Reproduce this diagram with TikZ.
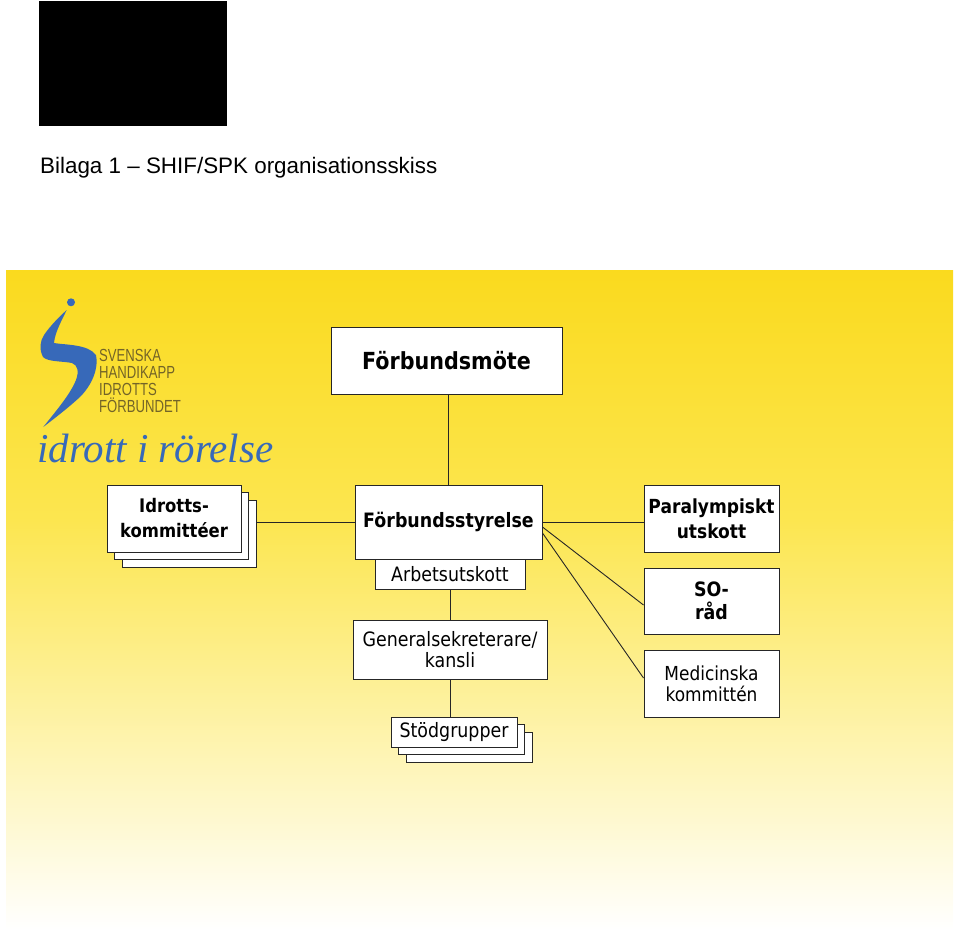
\documentclass[tikz,border=0pt]{standalone}
\usepackage{fontspec}
\setmainfont{DejaVu Sans}[FakeStretch=0.88]
\newfontfamily\titlefont{Liberation Sans}
\newfontfamily\handfont{Liberation Serif}
\definecolor{yA}{RGB}{250,218,30}
\definecolor{yB}{RGB}{252,230,80}
\definecolor{yC}{RGB}{254,244,170}
\definecolor{logoblue}{RGB}{55,105,185}
\definecolor{logotext}{RGB}{115,100,40}
\begin{document}
\begin{tikzpicture}[x=1pt,y=-1pt,
  box/.style={draw=black!85, line width=1pt, fill=white, inner sep=0pt, align=center},
  conn/.style={draw=black!85, line width=0.9pt},
  reg/.style={font=\fontsize{19.8}{21}\selectfont},
  bld/.style={font=\fontsize{19.8}{24}\selectfont\bfseries},
  logotxt/.style={anchor=base west, inner sep=0pt, text=logotext, font=\titlefont\fontsize{17.5}{17}\selectfont}]
\useasboundingbox (0,0) rectangle (960,930);
% header
\fill[black] (39,1) rectangle (227,126);
\node[anchor=base west, inner sep=0pt, font=\titlefont\fontsize{22.4}{26}\selectfont] (title) at (40,173) {Bilaga 1 – SHIF/SPK organisationsskiss};
% background
\shade[top color=yA, bottom color=yB] (6,270) rectangle (953,520.5);
\shade[top color=yB, middle color=yC, bottom color=white] (6,520) rectangle (953,930);
% logo
\fill[logoblue] (71,302.3) circle (4);
\fill[logoblue] (66.7,310) .. controls (62,320) and (55,332) .. (54,343)
  .. controls (65,345) and (88,344) .. (96,355)
  .. controls (99,368) and (92,385) .. (80,397)
  .. controls (68,408) and (55,418) .. (43.3,427)
  .. controls (55,412) and (70,395) .. (76,380)
  .. controls (79,372) and (78,365) .. (72,363)
  .. controls (62,361) and (48,362) .. (43,357)
  .. controls (39,349) and (40,341) .. (44,335)
  .. controls (50,326) and (60,316) .. (66.7,310) -- cycle;
\node[logotxt] (l1) at (99,361) {\scalebox{0.75}[1]{SVENSKA}};
\node[logotxt] (l2) at (99,378) {\scalebox{0.75}[1]{HANDIKAPP}};
\node[logotxt] (l3) at (99,395) {\scalebox{0.75}[1]{IDROTTS}};
\node[logotxt] (l4) at (99,412) {\scalebox{0.75}[1]{FÖRBUNDET}};
\node[anchor=base west, inner sep=0pt, text=logoblue, font=\handfont\itshape\fontsize{41}{41}\selectfont] (slogan) at (37,462) {idrott i rörelse};
% boxes
\node[box, font=\fontsize{23.5}{24}\selectfont\bfseries, minimum width=231, minimum height=67] (fm) at (446.5,360.5) {Förbundsmöte};
\node[box, bld, minimum width=187, minimum height=74] (fs) at (448.5,522) {Förbundsstyrelse};
\node[box, reg, minimum width=150, minimum height=30] (au) at (450,574) {Arbetsutskott};
\node[box, reg, minimum width=194, minimum height=59] (gs) at (450,649.5) {Generalsekreterare/\\kansli};
\node[box, minimum width=126, minimum height=30] (sg3) at (469,747) {};
\node[box, minimum width=126, minimum height=30] (sg2) at (461.5,739.5) {};
\node[box, reg, minimum width=126, minimum height=30] (sg) at (454,732) {Stödgrupper};
\node[box, font=\fontsize{19.4}{25}\selectfont\bfseries, minimum width=135, minimum height=67] (pu) at (711.5,518.5) {Paralympiskt\\utskott};
\node[box, font=\fontsize{19.8}{23}\selectfont\bfseries, minimum width=135, minimum height=66] (so) at (711.5,601) {SO-\\råd};
\node[box, font=\fontsize{19.3}{21}\selectfont, minimum width=135, minimum height=67] (mk) at (711.5,683.5) {Medicinska\\kommittén};
\node[box, minimum width=134, minimum height=67] (ik3) at (189,533.5) {};
\node[box, minimum width=134, minimum height=67] (ik2) at (181.5,526) {};
\node[box, font=\fontsize{18.7}{25}\selectfont\bfseries, minimum width=134, minimum height=67] (ik) at (174,518.5) {Idrotts-\\kommittéer};
% connectors
\draw[conn] (fs.north) -- (fs.north |- fm.south);
\draw[conn] (fs.west) -- (fs.west -| ik3.east);
\draw[conn] (fs.east) -- (fs.east -| pu.west);
\draw[conn] ([yshift=-5pt]fs.east) -- ([yshift=-4pt]so.west);
\draw[conn] ([yshift=-11pt]fs.east) -- ([yshift=5.5pt]mk.west);
\draw[conn] (au.south) -- (gs.north);
\draw[conn] (gs.south) -- (gs.south |- sg.north);
\end{tikzpicture}
\end{document}
